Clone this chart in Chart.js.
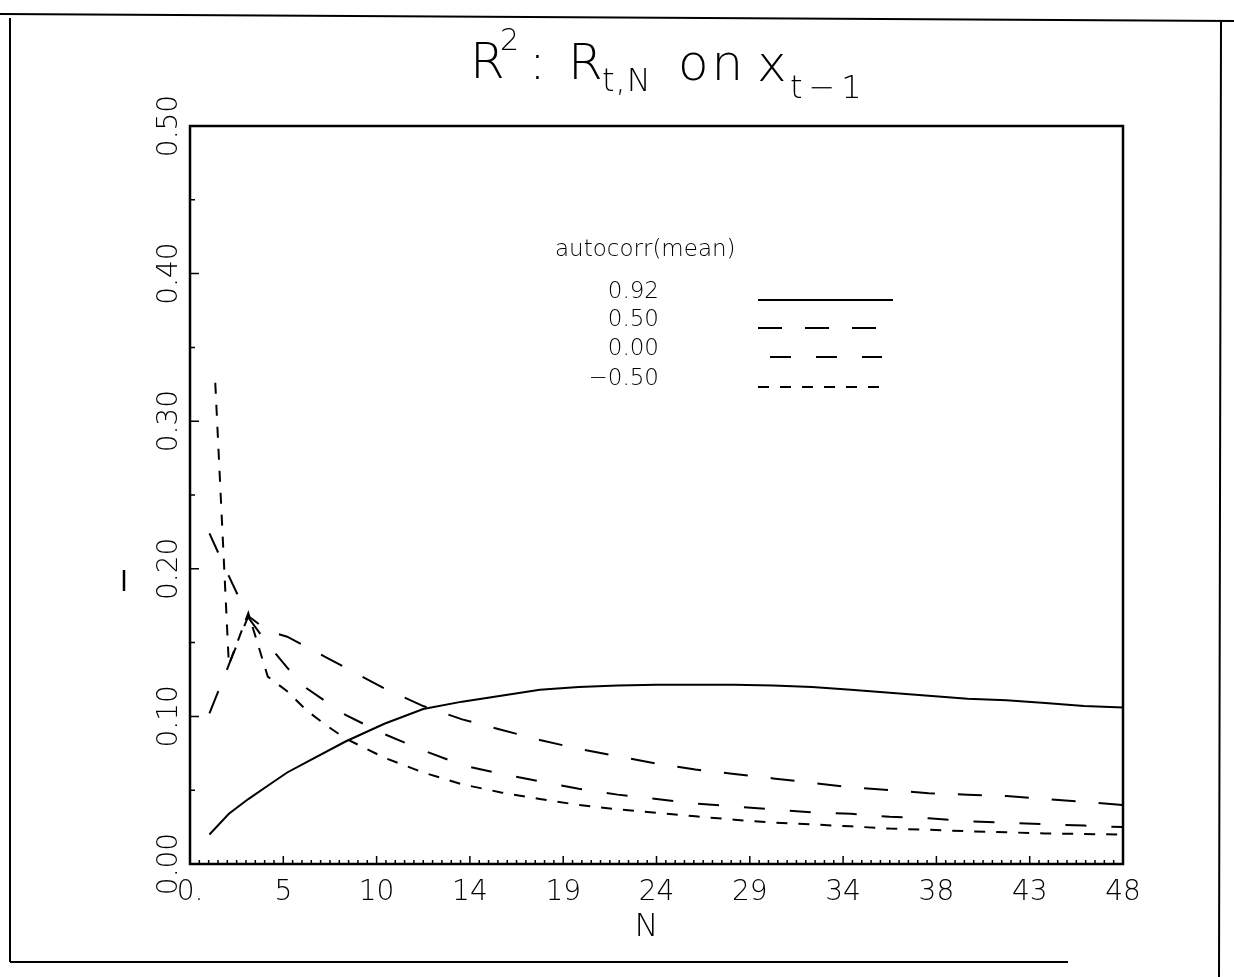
<!DOCTYPE html>
<html lang="en">
<head>
  <meta charset="UTF-8">
  <title>R2: R(t,N) on x(t-1)</title>
  <script src="https://cdn.jsdelivr.net/npm/chart.js"></script>
  <style>
    body {
      margin: 0;
      background: #fff;
    }
    canvas {
      display: block;
    }
  </style>
</head>
<body>
  <canvas id="r2Chart" width="1234" height="977"></canvas>

  <script>
    // axis ticks
    const xTickValues = [0, 4.8, 9.6, 14.4, 19.2, 24, 28.8, 33.6, 38.4, 43.2, 48];
    const xTickLabels = ['0.', '5', '10', '14', '19', '24', '29', '34', '38', '43', '48'];
    const yTickValues = [0, 0.1, 0.2, 0.3, 0.4, 0.5];
    const yTickLabels = ['0.00', '0.10', '0.20', '0.30', '0.40', '0.50'];

    // one curve per autocorr(mean) value
    const seriesNames = ['0.92', '0.50', '0.00', '\u22120.50'];

    const nRho92 = [1, 2, 3, 4, 5, 6, 8, 10, 12, 14, 16, 18, 20, 22, 24, 26, 28, 30, 32, 34, 36, 38, 40, 42, 44, 46, 48];
    const rRho92 = [0.020, 0.034, 0.044, 0.053, 0.062, 0.069, 0.083, 0.095, 0.105, 0.110, 0.114, 0.118, 0.120, 0.121, 0.1215, 0.1215, 0.1215, 0.121, 0.120, 0.118, 0.116, 0.114, 0.112, 0.111, 0.109, 0.107, 0.106];

    const nRho50 = [1, 2, 3, 4, 5, 6, 7, 8, 10, 12, 14, 16, 18, 20, 22, 24, 26, 28, 30, 32, 34, 36, 38, 40, 42, 44, 46, 48];
    const rRho50 = [0.102, 0.135, 0.168, 0.158, 0.154, 0.147, 0.140, 0.133, 0.119, 0.107, 0.098, 0.091, 0.084, 0.078, 0.073, 0.068, 0.064, 0.061, 0.058, 0.055, 0.052, 0.050, 0.048, 0.047, 0.046, 0.044, 0.042, 0.040];

    const nRho00 = [1, 2, 3, 4, 5, 6, 7, 8, 10, 12, 14, 16, 18, 20, 22, 24, 26, 28, 30, 32, 34, 36, 38, 40, 42, 44, 46, 48];
    const rRho00 = [0.224, 0.195, 0.167, 0.149, 0.133, 0.119, 0.110, 0.101, 0.088, 0.077, 0.067, 0.061, 0.056, 0.051, 0.047, 0.044, 0.041, 0.039, 0.037, 0.035, 0.034, 0.032, 0.031, 0.029, 0.028, 0.027, 0.026, 0.025];

    const nRhoNeg50 = [1.3, 2, 3, 4, 5, 6, 7, 8, 10, 12, 14, 16, 18, 20, 22, 24, 26, 28, 30, 32, 34, 36, 38, 40, 42, 44, 46, 48];
    const rRhoNeg50 = [0.326, 0.135, 0.170, 0.127, 0.117, 0.104, 0.094, 0.085, 0.072, 0.062, 0.054, 0.0485, 0.044, 0.040, 0.037, 0.0347, 0.0323, 0.030, 0.028, 0.0268, 0.0255, 0.024, 0.0232, 0.0222, 0.0215, 0.0207, 0.0203, 0.020];

    const FONT = '"DejaVu Sans ExtraLight", "DejaVu Sans", sans-serif';

    function points(ns, rs) {
      return ns.map((n, i) => ({ x: n, y: rs[i] }));
    }

    function line(label, ns, rs, dash) {
      return {
        label: label,
        data: points(ns, rs),
        borderColor: '#000',
        borderWidth: 2,
        borderDash: dash,
        pointRadius: 0,
        fill: false,
        tension: 0
      };
    }

    // frame, ticks, labels, legend and title, drawn like the old plotter output
    const paperPlugin = {
      id: 'paper',
      afterDraw(chart) {
        const { ctx, chartArea: a, scales: { x, y } } = chart;
        ctx.save();
        ctx.strokeStyle = '#000';
        ctx.fillStyle = '#000';
        ctx.lineCap = 'butt';

        // sheet border
        ctx.lineWidth = 2;
        ctx.beginPath();
        ctx.moveTo(0, 14); ctx.lineTo(1234, 21);
        ctx.moveTo(10, 18); ctx.lineTo(10, 962);
        ctx.moveTo(10, 962); ctx.lineTo(1068, 962);
        ctx.moveTo(1221, 22); ctx.lineTo(1219, 977);
        ctx.stroke();
        ctx.lineWidth = 2.5;
        ctx.beginPath();
        ctx.moveTo(124, 570); ctx.lineTo(124, 591);
        ctx.stroke();

        // plot box
        ctx.lineWidth = 2.5;
        ctx.strokeRect(a.left, a.top, a.right - a.left, a.bottom - a.top);

        // inward ticks
        ctx.lineWidth = 1.5;
        ctx.beginPath();
        for (let i = 0; i <= 100; i++) {
          const px = x.getPixelForValue(i * 0.48);
          const len = i % 10 === 0 ? 8 : 4;
          ctx.moveTo(px, a.bottom);
          ctx.lineTo(px, a.bottom - len);
        }
        for (let i = 0; i <= 10; i++) {
          const py = y.getPixelForValue(i * 0.05);
          const len = i % 2 === 0 ? 9 : 5;
          ctx.moveTo(a.left, py);
          ctx.lineTo(a.left + len, py);
        }
        ctx.stroke();

        // x tick labels
        ctx.font = '200 28px ' + FONT;
        ctx.textAlign = 'center';
        ctx.textBaseline = 'middle';
        xTickValues.forEach((v, i) => {
          ctx.fillText(xTickLabels[i], x.getPixelForValue(v), a.bottom + 29);
        });

        // y tick labels, rotated
        yTickValues.forEach((v, i) => {
          ctx.save();
          ctx.translate(a.left - 20, y.getPixelForValue(v));
          ctx.rotate(-Math.PI / 2);
          ctx.fillText(yTickLabels[i], 0, 0);
          ctx.restore();
        });

        // axis title
        ctx.font = '200 32px ' + FONT;
        ctx.fillText('N', (a.left + a.right) / 2 - 10, a.bottom + 64);

        // legend
        ctx.textBaseline = 'alphabetic';
        ctx.textAlign = 'left';
        ctx.font = '200 23px ' + FONT;
        ctx.fillText('autocorr(mean)', 555, 256);
        const legendRows = [
          { base: 298, x0: 758, x1: 893 },
          { base: 326, x0: 758, x1: 878 },
          { base: 355, x0: 770, x1: 882 },
          { base: 385, x0: 758, x1: 890 }
        ];
        chart.data.datasets.forEach((ds, i) => {
          const row = legendRows[i];
          ctx.textAlign = 'right';
          ctx.fillText(seriesNames[i], 659, row.base);
          ctx.lineWidth = 2;
          ctx.setLineDash(ds.borderDash || []);
          ctx.beginPath();
          ctx.moveTo(row.x0, row.base + 2);
          ctx.lineTo(row.x1, row.base + 2);
          ctx.stroke();
          ctx.setLineDash([]);
        });

        // title with super- and subscripts
        ctx.textAlign = 'left';
        const titleParts = [
          { text: 'R', x: 470, y: 78, size: 50, gap: 0 },
          { text: '2', x: 500, y: 50, size: 30, gap: 0 },
          { text: ':', x: 529, y: 79, size: 50, gap: 0 },
          { text: 'R', x: 568, y: 79, size: 50, gap: 0 },
          { text: 't,N', x: 602, y: 91, size: 32, gap: 1 },
          { text: 'on', x: 678, y: 80, size: 50, gap: 3 },
          { text: 'x', x: 757, y: 81, size: 50, gap: 0 },
          { text: 't\u22121', x: 790, y: 98, size: 32, gap: 6 }
        ];
        titleParts.forEach(p => {
          ctx.font = '200 ' + p.size + 'px ' + FONT;
          ctx.letterSpacing = p.gap + 'px';
          ctx.fillText(p.text, p.x, p.y);
        });
        ctx.letterSpacing = '0px';

        ctx.restore();
      }
    };

    const ctxR2 = document.getElementById('r2Chart').getContext('2d');

    const r2Chart = new Chart(ctxR2, {
      type: 'line',
      data: {
        datasets: [
          line(seriesNames[0], nRho92, rRho92, []),
          line(seriesNames[1], nRho50, rRho50, [24, 23]),
          line(seriesNames[2], nRho00, rRho00, [21, 25]),
          line(seriesNames[3], nRhoNeg50, rRhoNeg50, [11, 11])
        ]
      },
      options: {
        responsive: false,
        animation: false,
        layout: {
          padding: { top: 126, right: 111, left: 0, bottom: 0 }
        },
        plugins: {
          legend: { display: false },
          tooltip: { enabled: false }
        },
        scales: {
          x: {
            type: 'linear',
            min: 0,
            max: 48,
            grid: { display: false },
            border: { display: false },
            ticks: { display: false },
            afterFit(scale) { scale.height = 113; }
          },
          y: {
            min: 0,
            max: 0.5,
            grid: { display: false },
            border: { display: false },
            ticks: { display: false },
            afterFit(scale) { scale.width = 190; }
          }
        }
      },
      plugins: [paperPlugin]
    });
  </script>
</body>
</html>
